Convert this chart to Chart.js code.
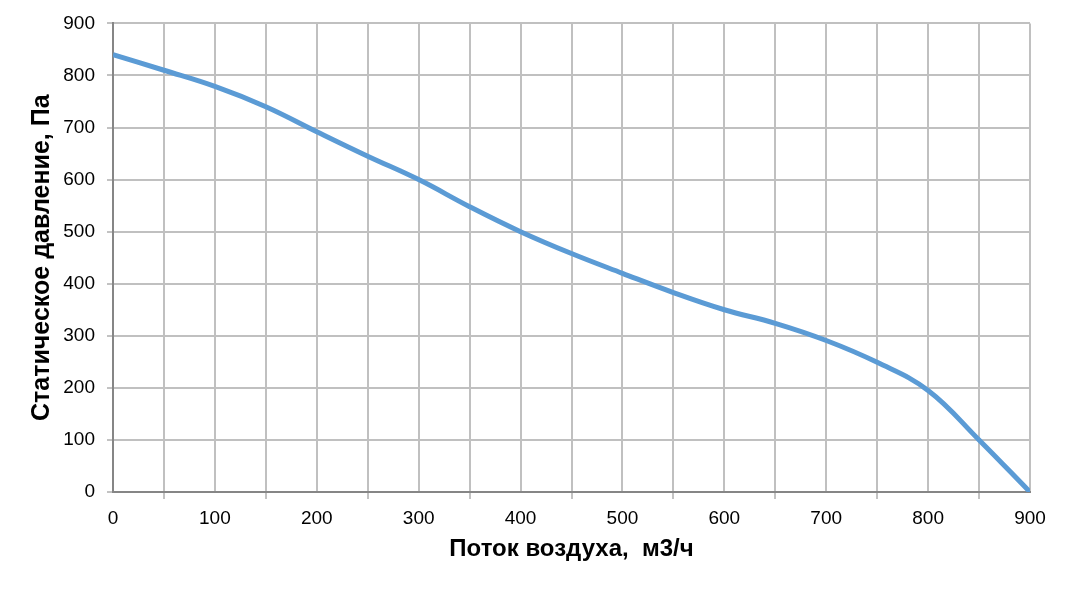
<!DOCTYPE html>
<html>
<head>
<meta charset="utf-8">
<script src="https://cdn.jsdelivr.net/npm/chart.js@4/dist/chart.umd.min.js"></script>
<style>
    html, body { margin: 0; padding: 0; background: #fff; }
    #wrap { width: 1070px; height: 589px; }
</style>
</head>
<body>
<div id="wrap"><canvas id="fanChart" width="1070" height="589"></canvas></div>
<script>
// Расход воздуха, м3/ч
const airFlow = [0, 50, 100, 150, 200, 250, 300, 350, 400, 450, 500, 550, 600, 650, 700, 750, 800, 850, 900];
// Статическое давление, Па
const staticPressure = [840, 810, 779, 740, 692, 645, 600, 548, 500, 458, 420, 383, 350, 324, 291, 249, 195, 100, 0];

const xTickLabels = ['0', '100', '200', '300', '400', '500', '600', '700', '800', '900'];
const yTickLabels = ['0', '100', '200', '300', '400', '500', '600', '700', '800', '900'];

const FONT = '"Liberation Sans", Arial, sans-serif';
const gridColor = '#c0c0c0';
const axisColor = '#868686';

const points = airFlow.map((x, i) => ({ x: x, y: staticPressure[i] }));

new Chart(document.getElementById('fanChart'), {
    type: 'scatter',
    data: {
        datasets: [{
            data: points,
            showLine: true,
            borderColor: '#5b9bd5',
            borderWidth: 5,
            pointRadius: 0,
            tension: 0.4,
            fill: false
        }]
    },
    options: {
        responsive: false,
        animation: false,
        layout: { padding: { top: 22, right: 40, bottom: 0, left: 0 } },
        plugins: {
            legend: { display: false },
            tooltip: { enabled: false }
        },
        scales: {
            x: {
                type: 'linear',
                min: 0,
                max: 900,
                afterFit: (scale) => { scale.height = 97; },
                ticks: {
                    stepSize: 50,
                    autoSkip: false,
                    maxRotation: 0,
                    padding: 8,
                    color: '#000',
                    font: { family: FONT, size: 19 },
                    callback: (v) => xTickLabels.includes(String(v)) ? String(v) : ''
                },
                grid: {
                    color: gridColor,
                    lineWidth: 2,
                    tickLength: 7,
                    tickColor: (ctx) => (ctx.tick && ctx.tick.value % 100 === 0) ? 'rgba(0,0,0,0)' : axisColor,
                    tickWidth: 1
                },
                border: { color: axisColor, width: 2 },
                title: {
                    display: true,
                    text: 'Поток воздуха,  м3/ч',
                    color: '#000',
                    font: { family: FONT, size: 24, weight: 'bold' },
                    padding: { top: 0, bottom: 25 }
                }
            },
            y: {
                type: 'linear',
                min: 0,
                max: 900,
                afterFit: (scale) => { scale.width = 113; },
                ticks: {
                    stepSize: 100,
                    padding: 12,
                    color: '#000',
                    font: { family: FONT, size: 19 },
                    callback: (v) => yTickLabels.includes(String(v)) ? String(v) : ''
                },
                grid: {
                    color: gridColor,
                    lineWidth: 2,
                    tickLength: 6,
                    tickColor: axisColor,
                    tickWidth: 1
                },
                border: { color: axisColor, width: 2 },
                title: {
                    display: true,
                    text: 'Статическое давление, Па',
                    color: '#000',
                    font: { family: FONT, size: 25, weight: 'bold' },
                    padding: { top: 27, bottom: 0 }
                }
            }
        }
    }
});
</script>
</body>
</html>
